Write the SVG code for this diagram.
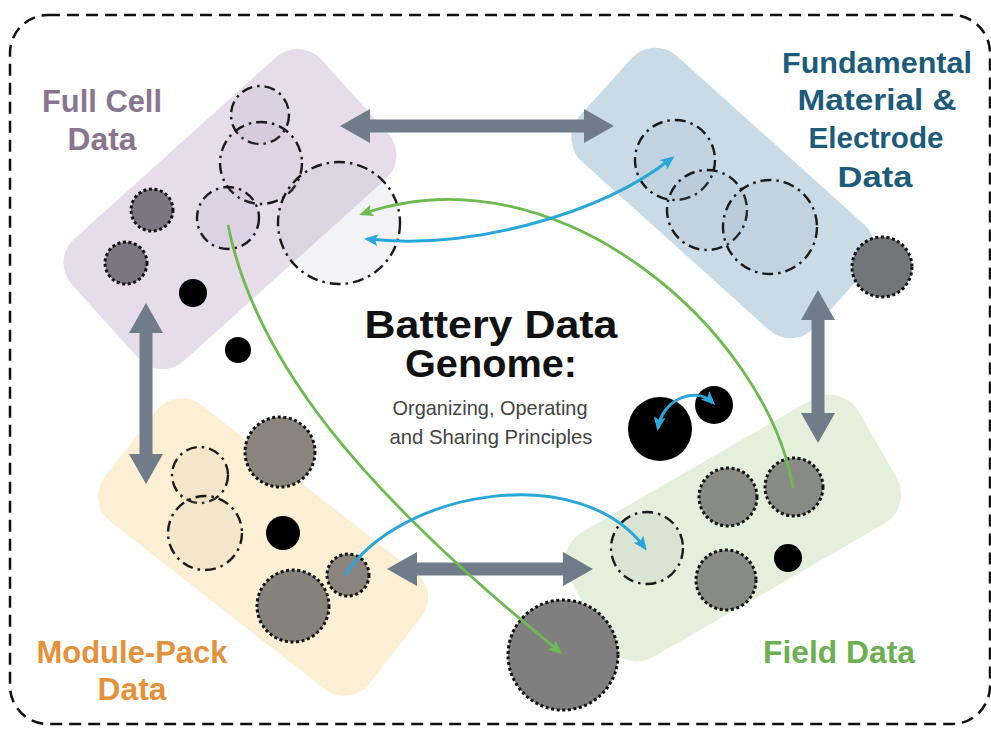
<svg xmlns="http://www.w3.org/2000/svg" width="991" height="730" viewBox="0 0 991 730">
<style>
.lbl{font-family:"Liberation Sans",Arial,sans-serif;font-weight:bold;text-anchor:middle}
.dd{stroke:#1a1a1a;stroke-width:2.4;stroke-dasharray:11 5 2.5 5}
.dot{stroke:#111;stroke-width:3;stroke-dasharray:3 2.6}
.blk{fill:#000}
.garrow{stroke:#707c89;stroke-width:13;fill:none}
.gc{stroke:#6dbb50;stroke-width:2.8;fill:none}
.bc{stroke:#2aa7d9;stroke-width:3;fill:none}
</style>
<defs>
<marker id="gh" markerUnits="userSpaceOnUse" markerWidth="30" markerHeight="34" viewBox="0 0 30 34" refX="0" refY="17" orient="auto-start-reverse"><path d="M0,0 L30,17 L0,34 z" fill="#707c89"/></marker>
<marker id="greenh" markerUnits="userSpaceOnUse" markerWidth="14" markerHeight="12" viewBox="0 0 14 12" refX="11" refY="6" orient="auto-start-reverse"><path d="M0,0 L14,6 L0,12 L3,6 z" fill="#6dbb50"/></marker>
<marker id="blueh" markerUnits="userSpaceOnUse" markerWidth="14" markerHeight="12" viewBox="0 0 14 12" refX="11" refY="6" orient="auto-start-reverse"><path d="M0,0 L14,6 L0,12 L3,6 z" fill="#2aa7d9"/></marker>
</defs>
<rect width="991" height="730" fill="#ffffff"/>
<rect x="10" y="15" width="980" height="709" rx="38" fill="none" stroke="#111" stroke-width="2.5" stroke-dasharray="12 7"/>

<g id="node-fullcell">
<rect x="-168" y="-82" width="336" height="164" rx="32" fill="#e6dcea" transform="translate(230,209) rotate(-42)"/>
<circle class="dd" cx="260" cy="115" r="29" fill="rgba(150,130,165,0.12)"/>
<circle class="dd" cx="261" cy="163" r="41" fill="rgba(150,130,165,0.08)"/>
<circle class="dd" cx="228" cy="218" r="31" fill="rgba(150,130,165,0.1)"/>
<circle class="dd" cx="339" cy="223" r="61" fill="rgba(160,160,170,0.12)"/>
<circle class="dot" cx="152" cy="210" r="21" fill="#7c7683"/>
<circle class="dot" cx="126" cy="263" r="21" fill="#7c7683"/>
<circle class="blk" cx="193" cy="293" r="14"/>
<circle class="blk" cx="238" cy="350" r="13"/>
<text class="lbl" font-size="31" fill="#8a7590"><tspan x="102" y="112" textLength="120" lengthAdjust="spacingAndGlyphs">Full Cell</tspan><tspan x="102" y="150" textLength="69" lengthAdjust="spacingAndGlyphs">Data</tspan></text>
</g>

<g id="node-fundamental">
<rect x="-158" y="-71" width="316" height="142" rx="32" fill="#c9dbe7" transform="translate(723,193) rotate(42)"/>
<circle class="dd" cx="675" cy="160" r="40" fill="rgba(130,150,170,0.1)"/>
<circle class="dd" cx="707" cy="210" r="40" fill="rgba(130,150,170,0.1)"/>
<circle class="dd" cx="770" cy="227" r="47" fill="rgba(130,150,170,0.1)"/>
<circle class="dot" cx="882" cy="267" r="30" fill="#737578"/>
<text class="lbl" font-size="30" fill="#1c5b7a"><tspan x="877" y="73" textLength="190" lengthAdjust="spacingAndGlyphs">Fundamental</tspan><tspan x="877" y="110" textLength="159" lengthAdjust="spacingAndGlyphs">Material &amp;</tspan><tspan x="876" y="148" textLength="135" lengthAdjust="spacingAndGlyphs">Electrode</tspan><tspan x="875" y="187" textLength="75" lengthAdjust="spacingAndGlyphs">Data</tspan></text>
</g>

<g id="node-modulepack">
<rect x="-168" y="-74" width="336" height="148" rx="32" fill="#fcefd4" transform="translate(263,547) rotate(38)"/>
<circle class="dd" cx="200" cy="475" r="28" fill="rgba(180,165,140,0.12)"/>
<circle class="dd" cx="205" cy="533" r="37" fill="rgba(180,165,140,0.12)"/>
<circle class="dot" cx="280" cy="452" r="35" fill="#8a847c"/>
<circle class="blk" cx="283" cy="533" r="17"/>
<circle class="dot" cx="293" cy="606" r="36" fill="#85817b"/>
<circle class="dot" cx="348" cy="575" r="21" fill="#8a847c"/>
<text class="lbl" font-size="31" fill="#e5913a"><tspan x="132" y="663" textLength="191" lengthAdjust="spacingAndGlyphs">Module-Pack</tspan><tspan x="132" y="700" textLength="69" lengthAdjust="spacingAndGlyphs">Data</tspan></text>
</g>

<g id="node-field">
<rect x="-167" y="-72" width="334" height="144" rx="34" fill="#e4efdc" transform="translate(733,528) rotate(-30)"/>
<circle class="dd" cx="647" cy="548" r="36" fill="rgba(160,170,160,0.15)"/>
<circle class="dot" cx="728" cy="497" r="29" fill="#888a86"/>
<circle class="dot" cx="794" cy="487" r="29" fill="#888a86"/>
<circle class="dot" cx="726" cy="580" r="30" fill="#888a86"/>
<circle class="blk" cx="788" cy="558" r="14"/>
<circle class="dot" cx="563" cy="655" r="55" fill="#7f7f7f"/>
<text class="lbl" font-size="31" fill="#6cb04f" x="839" y="663" textLength="152" lengthAdjust="spacingAndGlyphs">Field Data</text>
</g>

<g id="node-title">
<circle class="blk" cx="660" cy="429" r="32"/>
<circle class="blk" cx="714" cy="405" r="19"/>
<text class="lbl" font-size="39" fill="#111"><tspan x="491" y="338" textLength="253" lengthAdjust="spacingAndGlyphs">Battery Data</tspan><tspan x="491" y="377" textLength="172" lengthAdjust="spacingAndGlyphs">Genome:</tspan></text>
<text font-family="'Liberation Sans',Arial,sans-serif" font-size="21" fill="#444" text-anchor="middle"><tspan x="490" y="415" textLength="195" lengthAdjust="spacingAndGlyphs">Organizing, Operating</tspan><tspan x="491" y="444" textLength="203" lengthAdjust="spacingAndGlyphs">and Sharing Principles</tspan></text>
</g>

<g id="connectors">
<line class="garrow" x1="370" y1="126" x2="584" y2="126" marker-start="url(#gh)" marker-end="url(#gh)"/>
<line class="garrow" x1="146" y1="333" x2="146" y2="454" marker-start="url(#gh)" marker-end="url(#gh)"/>
<line class="garrow" x1="818" y1="320" x2="818" y2="413" marker-start="url(#gh)" marker-end="url(#gh)"/>
<line class="garrow" x1="417" y1="569" x2="563" y2="569" marker-start="url(#gh)" marker-end="url(#gh)"/>
<path class="gc" d="M228,225 C255,360 360,490 560,652" marker-end="url(#greenh)"/>
<path class="gc" d="M793,488 C768,335 560,145 362,214" marker-end="url(#greenh)"/>
<path class="bc" d="M367,239 C470,250 600,215 672,158" marker-start="url(#blueh)" marker-end="url(#blueh)"/>
<path class="bc" d="M345,575 C400,490 580,460 645,548" marker-end="url(#blueh)"/>
<path class="bc" d="M658,428 C662,400 695,385 713,403" marker-start="url(#blueh)" marker-end="url(#blueh)"/>
</g>
</svg>
